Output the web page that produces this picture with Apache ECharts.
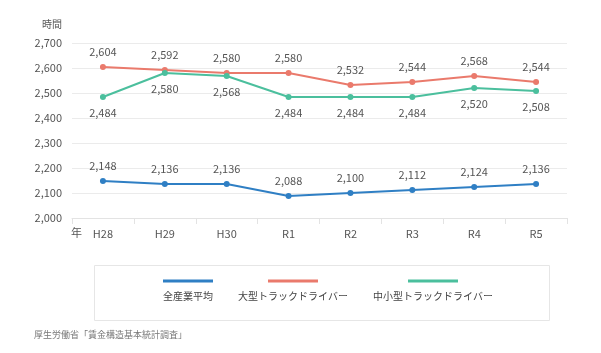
<!DOCTYPE html>
<html>
<head>
<meta charset="utf-8">
<script src="https://cdn.jsdelivr.net/npm/echarts@6/dist/echarts.min.js"></script>
<style>
  html, body { margin: 0; padding: 0; background: #fff; }
  #main { width: 601px; height: 353px; }
</style>
</head>
<body>
<div id="main"></div>
<script>
// 年度
var years = ['H28', 'H29', 'H30', 'R1', 'R2', 'R3', 'R4', 'R5'];
// 年間労働時間
var allIndustry = [2148, 2136, 2136, 2088, 2100, 2112, 2124, 2136];
var largeTruck = [2604, 2592, 2580, 2580, 2532, 2544, 2568, 2544];
var smallTruck = [2484, 2580, 2568, 2484, 2484, 2484, 2520, 2508];
var seriesNames = ['全産業平均', '大型トラックドライバー', '中小型トラックドライバー'];
var colors = ['#2f7fc4', '#ea7a6c', '#4bbf9d'];

var FONT = '"Noto Sans CJK JP", sans-serif';
var LEGEND_FONT_SIZE = 10;
var LEGEND_LINE_W = 50;

function fmt(v) {
    return String(v).replace(/\B(?=(\d{3})+(?!\d))/g, ',');
}

// 凡例の線をテキストの中央に置くための幅計測
var ctx = document.createElement('canvas').getContext('2d');
ctx.font = LEGEND_FONT_SIZE + 'px ' + FONT;
function textW(s) {
    return ctx.measureText(s).width;
}

function makeSeries(idx, data, pos) {
    return {
        name: seriesNames[idx],
        type: 'line',
        data: data,
        symbol: 'circle',
        symbolSize: 6,
        lineStyle: { width: 2, color: colors[idx] },
        itemStyle: { color: colors[idx] },
        label: {
            show: true,
            position: pos,
            distance: 7,
            fontFamily: FONT,
            fontSize: 11,
            color: '#555',
            formatter: function (p) { return fmt(p.value); }
        },
        animation: false
    };
}

var rich = {
    t: { fontSize: LEGEND_FONT_SIZE, color: '#444', padding: [9, 0, 0, 0], fontFamily: FONT }
};
for (var i = 0; i < seriesNames.length; i++) {
    var sp = Math.max(0, (textW(seriesNames[i]) - LEGEND_LINE_W) / 2);
    rich['s' + i] = { width: sp, height: 3 };
    rich['b' + i] = { width: LEGEND_LINE_W, height: 3, backgroundColor: colors[i] };
}

var dom = document.getElementById('main');
var myChart = echarts.init(dom);
var option = {
    backgroundColor: '#fff',
    textStyle: { fontFamily: FONT },
    grid: { left: 72, right: 34, top: 43, bottom: 135, containLabel: false },
    xAxis: {
        type: 'category',
        data: years,
        boundaryGap: true,
        axisLine: { lineStyle: { color: '#e3e3e3', width: 1 } },
        axisTick: { show: true, length: 6, lineStyle: { color: '#e3e3e3' } },
        axisLabel: { color: '#555', fontSize: 11, margin: 10, fontFamily: FONT }
    },
    yAxis: {
        type: 'value',
        min: 2000,
        max: 2700,
        interval: 100,
        axisLine: { show: false },
        axisTick: { show: false },
        axisLabel: {
            color: '#555', fontSize: 11, margin: 10, fontFamily: FONT,
            formatter: function (v) { return fmt(v); }
        },
        splitLine: { lineStyle: { color: '#ebebeb', width: 1 } }
    },
    legend: {
        left: 153,
        top: 270,
        itemGap: 20,
        icon: 'none',
        itemWidth: 0,
        itemHeight: 0,
        selectedMode: false,
        data: seriesNames,
        formatter: function (name) {
            var i = seriesNames.indexOf(name);
            return '{s' + i + '|}{b' + i + '|}\n{t|' + name + '}';
        },
        textStyle: { fontFamily: FONT, rich: rich }
    },
    graphic: [
        { type: 'rect', left: 92, top: 263, shape: { width: 455, height: 55 },
          style: { fill: 'none', stroke: '#e6e6e6', lineWidth: 1 }, z: -1 },
        { type: 'text', left: 42, top: 19,
          style: { text: '時間', fontSize: 10, fill: '#555', fontFamily: FONT } },
        { type: 'text', left: 71, top: 227,
          style: { text: '年', fontSize: 11, fill: '#555', fontFamily: FONT } },
        { type: 'text', left: 34, top: 330,
          style: { text: '厚生労働省「賃金構造基本統計調査」', fontSize: 9, fill: '#777', fontFamily: FONT } }
    ],
    series: [
        makeSeries(0, allIndustry, 'top'),
        makeSeries(1, largeTruck, 'top'),
        makeSeries(2, smallTruck, 'bottom')
    ]
};

if (option && typeof option === 'object') {
    myChart.setOption(option, true);
}
</script>
</body>
</html>
